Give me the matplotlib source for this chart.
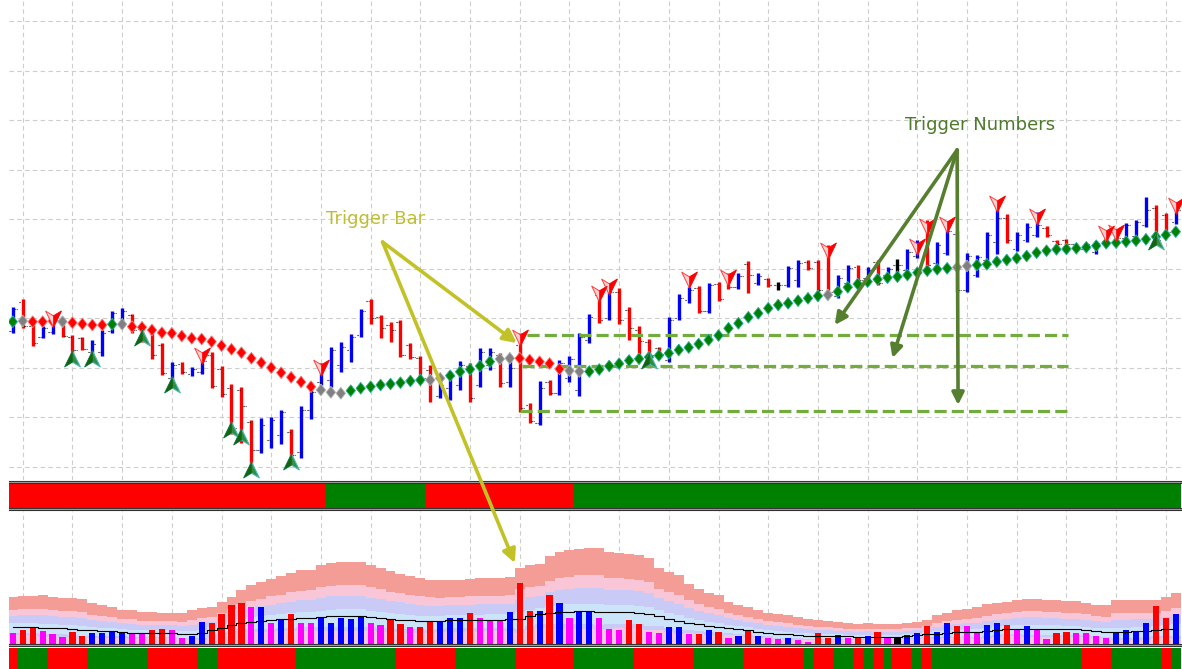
import numpy as np
import matplotlib
matplotlib.use("Agg")
import matplotlib.pyplot as plt
from matplotlib.lines import Line2D

W, H = 1182, 669

# ---- price bars (118 bars) ----
highs = [193, 201, 182, 174, 183, 182, 165, 163, 160, 170, 189, 192, 186, 173, 173, 157, 138, 138, 133, 142,
         148, 134, 116, 113, 80, 82, 83, 90, 71, 94, 113, 137, 153, 158, 166, 191, 201, 185, 178, 180,
         157, 144, 135, 125, 128, 139, 137, 152, 152, 147, 145, 167, 97, 119, 120, 140, 144, 167, 186, 210,
         212, 212, 193, 174, 161, 153, 183, 206, 213, 214, 217, 218, 227, 227, 239, 227, 222, 218, 234, 240,
         240, 240, 255, 225, 235, 235, 233, 240, 233, 241, 251, 260, 280, 258, 272, 269, 247, 245, 268, 292,
         286, 268, 277, 288, 274, 260, 261, 257, 257, 259, 268, 270, 277, 280, 303, 295, 287, 293]
lows = [167, 172, 154, 162, 166, 163, 141, 150, 141, 144, 167, 173, 167, 158, 141, 125, 120, 126, 124, 126,
        112, 103, 66, 57, 30, 47, 52, 56, 43, 42, 81, 115, 113, 128, 138, 163, 176, 162, 158, 143,
        141, 120, 98, 102, 100, 110, 98, 113, 130, 113, 113, 88, 77, 75, 105, 105, 118, 104, 157, 177,
        180, 176, 160, 138, 138, 144, 138, 180, 197, 187, 187, 199, 211, 211, 207, 215, 213, 210, 213, 213,
        230, 208, 205, 202, 215, 218, 220, 215, 223, 228, 228, 242, 232, 235, 245, 208, 208, 223, 238, 246,
        257, 249, 258, 263, 263, 255, 255, 250, 250, 246, 257, 260, 260, 262, 273, 257, 265, 276]
opens = [169, 198, 174, 163, 168, 180, 163, 162, 148, 148, 169, 175, 185, 171, 170, 155, 122, 136, 126, 128,
         145, 131, 112, 110, 78, 50, 60, 65, 68, 48, 90, 118, 120, 135, 150, 165, 199, 183, 175, 178,
         155, 142, 130, 104, 112, 115, 134, 115, 135, 145, 118, 155, 95, 77, 118, 107, 122, 110, 160, 205,
         182, 208, 190, 170, 158, 152, 140, 182, 200, 212, 189, 216, 225, 213, 236, 217, 221, 215, 215, 220,
         238, 238, 250, 204, 217, 233, 222, 238, 225, 235, 230, 244, 275, 237, 247, 266, 210, 225, 240, 258,
         282, 251, 260, 265, 272, 259, 260, 256, 251, 248, 259, 269, 262, 264, 275, 292, 285, 278]
closes = [191, 174, 157, 172, 180, 164, 150, 151, 156, 167, 187, 189, 170, 160, 145, 127, 135, 128, 131, 139,
          114, 106, 72, 94, 50, 75, 80, 88, 45, 90, 108, 133, 150, 153, 163, 189, 182, 172, 170, 145,
          143, 122, 120, 115, 124, 135, 102, 148, 148, 117, 132, 92, 79, 112, 107, 137, 141, 163, 183, 180,
          208, 180, 172, 159, 145, 146, 180, 202, 210, 189, 215, 201, 213, 224, 225, 224, 215, 215, 232, 237,
          232, 210, 208, 222, 232, 220, 230, 217, 231, 235, 248, 257, 235, 255, 269, 210, 244, 243, 265, 282,
          260, 265, 273, 275, 265, 256, 256, 251, 256, 257, 266, 262, 275, 278, 290, 260, 268, 290]

# ---- trend line (diamonds) ----
trend = [178.3, 179, 178.3, 178.3, 179, 178.3, 177.3, 176, 175, 175, 175.7, 175.7, 173.3, 172.7, 170, 167.3,
         166.7, 164, 161.7, 161, 158.3, 154.3, 150.7, 147.3, 141.7, 137.3, 132.3, 127.3, 122.7, 118, 113.3,
         110, 107.7, 106.7, 109.3, 111.7, 113.3, 115, 116, 117.3, 119, 120, 120, 121.7, 124.3, 128.3, 130.7,
         134, 138.3, 141, 141.7, 141.7, 140, 138.3, 136.5, 131, 129.3, 128.5, 128.5, 130.5, 134, 136.3, 139.5,
         141.2, 142.8, 144.5, 146.7, 150, 152.5, 156, 160, 164.5, 171.7, 176.7, 182.7, 186.7, 191.7, 195,
         196.7, 199.3, 201.7, 204, 205, 208.3, 212.7, 216, 218.3, 220.7, 222.3, 223.3, 225, 227.3, 229.3,
         230.7, 231.7, 232.7, 234, 235, 235.7, 238.3, 240, 241.7, 244, 247.3, 249.3, 250.7, 251, 251.7,
         252.7, 254.3, 256.7, 257.3, 258.3, 259.3, 260.7, 263.3, 265, 268.3]
trend_runs = [("G", 1), ("Y", 1), ("R", 3), ("Y", 1), ("R", 4), ("G", 1), ("Y", 1), ("R", 19), ("Y", 3),
              ("G", 8), ("Y", 2), ("G", 5), ("Y", 2), ("R", 5), ("Y", 2), ("G", 24), ("Y", 1), ("G", 12),
              ("Y", 2), ("G", 21)]

# signal arrows: bar index and price of glyph centre
sell_bars = [4, 19, 31, 51, 59, 60, 68, 72, 82, 91, 92, 94, 99, 103, 110, 111, 117]
sell_price = [182, 145, 133, 163, 207, 214, 221, 223, 250, 254, 274, 276, 297, 284, 267, 268, 295]
buy_bars = [6, 8, 13, 16, 22, 23, 24, 28, 64, 115]
buy_price = [141, 141, 162, 115, 70, 63, 30, 38, 139, 258]

# trigger levels from the trigger bar
trigger_levels = [165, 134, 89]
trigger_start = [51.7, 51.2, 51.0]
trigger_end = 106.2

# ---- colour strips ----
top_runs = [("R", 32), ("G", 10), ("R", 15), ("G", 61)]
bottom_runs = [("R", 1), ("G", 3), ("R", 4), ("G", 6), ("R", 5), ("G", 2), ("R", 8), ("G", 10), ("R", 6),
               ("G", 6), ("R", 6), ("G", 6), ("R", 6), ("G", 5), ("R", 6), ("G", 1), ("R", 2), ("G", 2),
               ("R", 1), ("G", 1), ("R", 1), ("G", 1), ("R", 2), ("G", 1), ("R", 1), ("G", 15), ("R", 3),
               ("G", 5), ("R", 1), ("G", 1)]

# ---- volume ----
volume = [107, 133, 160, 123, 93, 67, 113, 80, 103, 103, 123, 120, 103, 100, 137, 150, 137, 57, 77, 217,
          207, 293, 383, 407, 363, 363, 207, 240, 300, 210, 210, 267, 210, 257, 243, 277, 210, 187, 237, 197,
          167, 163, 220, 217, 257, 257, 303, 257, 233, 233, 313, 607, 327, 327, 490, 410, 257, 320, 320, 257,
          150, 137, 233, 197, 113, 103, 163, 163, 93, 93, 137, 117, 57, 80, 123, 80, 57, 43, 57, 33,
          13, 103, 57, 90, 57, 57, 80, 113, 57, 60, 90, 103, 173, 113, 207, 173, 173, 103, 183, 207,
          183, 133, 173, 133, 43, 103, 113, 103, 103, 80, 57, 103, 137, 127, 207, 373, 257, 300]
vol_codes = ("MRRMMMRRBB" "BBMMRRMMBB" "RRRRMBMBRM" "MBBBBBMMRR" "MRRBBBRMMM" "BRRBRBMBBM"
             "MMRRMMBBMR" "BRMBRBMMBM" "MRRBMRBRMK" "BBRBBRMMBB" "RMBMMRRMMM" "MBBBBRRB")
vol_top = [467, 473, 480, 490, 467, 457, 457, 450, 407, 387, 367, 340, 340, 320, 320, 310, 310, 310, 333, 360,
           367, 417, 467, 533, 583, 617, 650, 673, 707, 733, 740, 783, 807, 817, 817, 817, 783, 757, 723, 700,
           673, 657, 640, 633, 640, 640, 650, 660, 660, 660, 667, 760, 783, 793, 873, 917, 933, 950, 960, 960,
           917, 907, 900, 883, 860, 757, 717, 683, 600, 550, 507, 483, 417, 383, 367, 340, 307, 300, 290, 267,
           250, 240, 227, 217, 207, 200, 207, 200, 200, 200, 207, 217, 240, 283, 307, 333, 350, 367, 393, 407,
           417, 433, 450, 450, 440, 433, 423, 423, 407, 390, 383, 440, 440, 440, 440, 440, 467, 507]
vol_mean = [167, 167, 167, 160, 157, 153, 147, 140, 133, 127, 123, 120, 110, 110, 110, 107, 107, 100, 100, 110,
            133, 160, 183, 207, 217, 227, 233, 243, 250, 257, 260, 267, 273, 277, 277, 277, 267, 257, 247, 240,
            233, 227, 223, 227, 233, 233, 237, 237, 240, 240, 243, 250, 277, 293, 307, 317, 320, 323, 323, 317,
            317, 317, 313, 307, 293, 273, 250, 227, 210, 193, 180, 167, 157, 147, 133, 120, 110, 100, 93, 87,
            80, 77, 77, 73, 73, 70, 70, 70, 67, 70, 77, 83, 93, 100, 110, 113, 117, 117, 127, 140,
            147, 150, 150, 150, 147, 147, 143, 143, 137, 127, 120, 120, 120, 123, 127, 137, 143, 147]


def expand(runs):
    out = []
    for code, count in runs:
        out += [code] * count
    return out


n = len(highs)
x = np.arange(n)
opens, closes = np.array(opens), np.array(closes)
XLIM = ((9 - 12.8) / 9.94, (W - 12.8) / 9.94)
GRID = "#cdcdcd"
grid_dash = (0, (4, 3))
vgrid = np.arange(1, n, 5)

fig = plt.figure(figsize=(W / 100, H / 100), dpi=100)
fig.patch.set_facecolor("white")


def panel(top_px, bottom_px):
    a = fig.add_axes([9 / W, 1 - bottom_px / H, (W - 9) / W, (bottom_px - top_px) / H])
    a.set_xlim(*XLIM)
    a.set_axis_off()
    return a


ax_vol = panel(511, 643.5)
ax_band = panel(483.3, 507.5)
ax_bot = panel(648.3, 669)
ax = panel(0, 479.5)
ax.set_zorder(10)

# ---- main price panel ----
ax.set_ylim(20.5, 500)
for gy in np.arange(478.7, 20, -49.5):
    ax.axhline(gy, color=GRID, lw=0.8, ls=grid_dash, zorder=0)
for gx in vgrid:
    ax.axvline(gx, color=GRID, lw=0.8, ls=grid_dash, zorder=0)

bar_cols = np.where(closes > opens, "#0000ff", np.where(closes < opens, "#ff0000", "#000000"))
ax.vlines(x, lows, highs, colors=bar_cols, lw=2.4, zorder=3)
ax.hlines(opens, x - 0.42, x - 0.13, colors="black", lw=0.8, ls=(0, (1, 1)), zorder=3)
ax.hlines(closes, x + 0.13, x + 0.42, colors="black", lw=0.8, ls=(0, (1, 1)), zorder=3)

for lvl, x0 in zip(trigger_levels, trigger_start):
    ax.plot([x0, trigger_end], [lvl, lvl], color="#72ac3c", lw=2.3, dashes=(3.8, 1.6), zorder=4)

face = {"R": "#ff0000", "G": "#008000", "Y": "#808080"}
edge = {"R": "#ff7878", "G": "#2ab0a0", "Y": "#b0b0b0"}
states = expand(trend_runs)
diamond = [(0, 1), (0.8, 0), (0, -1), (-0.8, 0), (0, 1)]
ax.scatter(x, trend, marker=diamond, s=72, c=[face[s] for s in states],
           edgecolors=[edge[s] for s in states], linewidths=0.6, zorder=5)

down_full = [(0, -1), (0.9, 0.85), (0, 0.3), (-0.9, 0.85), (0, -1)]
down_right = [(0, -1), (0.9, 0.85), (0, 0.3), (0, -1)]
ax.plot(sell_bars, sell_price, ls="none", marker=down_full, ms=12.5, mfc="#ffd0d0", mec="#ff4040",
        mew=0.7, zorder=6)
ax.plot(sell_bars, sell_price, ls="none", marker=down_right, ms=12.5, mfc="#ff0000", mec="#ff0000",
        mew=0.5, zorder=6)
up_full = [(0, 1), (0.9, -0.85), (0, -0.3), (-0.9, -0.85), (0, 1)]
up_left = [(0, 1), (0, -0.3), (-0.9, -0.85), (0, 1)]
ax.plot(buy_bars, buy_price, ls="none", marker=up_full, ms=12.5, mfc="#2f8f3f", mec="#49b8b8",
        mew=0.8, zorder=6)
ax.plot(buy_bars, buy_price, ls="none", marker=up_left, ms=12.5, mfc="#136313", mec="#136313",
        mew=0.3, zorder=6)

# annotations
yel = "#c2c227"
ax.text(36.5, 281, "Trigger Bar", color="#bebe32", fontsize=13, ha="center", va="center", zorder=8)
head = dict(arrowstyle="-|>", lw=2.6, color=yel, mutation_scale=20, shrinkA=0, shrinkB=0)
ax.annotate("", xy=(50.7, 157), xytext=(37.2, 258), arrowprops=head, zorder=8)
ax.annotate("", xy=(50.5, 805), xycoords=ax_vol.transData, xytext=(37.2, 258), textcoords="data",
            arrowprops=head, zorder=8)

grn = "#557f2f"
ax.text(97.3, 374.5, "Trigger Numbers", color="#4d7a2b", fontsize=13, ha="center", va="center", zorder=8)
head_g = dict(arrowstyle="-|>", lw=2.6, color=grn, mutation_scale=18, shrinkA=0, shrinkB=0)
for tip in [(82.7, 175), (88.5, 142), (95.1, 95)]:
    ax.annotate("", xy=tip, xytext=(95.0, 350), arrowprops=head_g, zorder=8)

# ---- colour strips ----
strip = {"R": "#ff0000", "G": "#008000"}
ax_band.set_ylim(0, 1)
ax_band.bar(x, 1, width=1.0, color=[strip[c] for c in expand(top_runs)], lw=0)
ax_bot.set_ylim(0, 1)
ax_bot.bar(x, 1, width=1.0, color=[strip[c] for c in expand(bottom_runs)], lw=0)

# ---- volume panel ----
ax_vol.set_ylim(0, 1325)
for gx in vgrid:
    ax_vol.axvline(gx, color=GRID, lw=0.8, ls=grid_dash, zorder=0)
top = np.array(vol_top, float)
mean = np.array(vol_mean, float)
spread = top - mean
edges = np.arange(n + 1) - 0.5


def band(lo, hi, col):
    lo = np.broadcast_to(lo, (n,))
    ax_vol.fill_between(edges, np.r_[lo, lo[-1]], np.r_[hi, hi[-1]], step="post", color=col, lw=0,
                        zorder=1)


band(0, top, "#f49d97")
band(0, mean + 0.57 * spread, "#f9c6d8")
band(0, mean + 0.37 * spread, "#cacaf7")
band(mean - 0.2 * spread, mean + 0.12 * spread, "#cbe4f9")
band(0, np.clip(mean - 0.28 * spread, 0, None), "#f6c9e0")

vcol = {"B": "#0000ff", "R": "#ff0000", "M": "#ff00ff", "K": "#000000"}
ax_vol.bar(x, volume, width=0.62, color=[vcol[c] for c in vol_codes], lw=0, zorder=3)
ax_vol.step(x, mean, where="mid", color="black", lw=0.8, zorder=4)

# ---- panel separators ----
for ypx, col in [(480.7, "#303030"), (481.7, "#a0a0a0"), (482.6, "#303030"),
                 (508.0, "#303030"), (509.2, "#a0a0a0"), (510.4, "#303030"),
                 (643.7, "#303030"), (644.8, "#a0a0a0"), (645.9, "#303030")]:
    fig.add_artist(Line2D([9 / W, 1], [1 - ypx / H] * 2, transform=fig.transFigure, color=col, lw=0.8))

fig.savefig("out.png", dpi=100, facecolor="white")
